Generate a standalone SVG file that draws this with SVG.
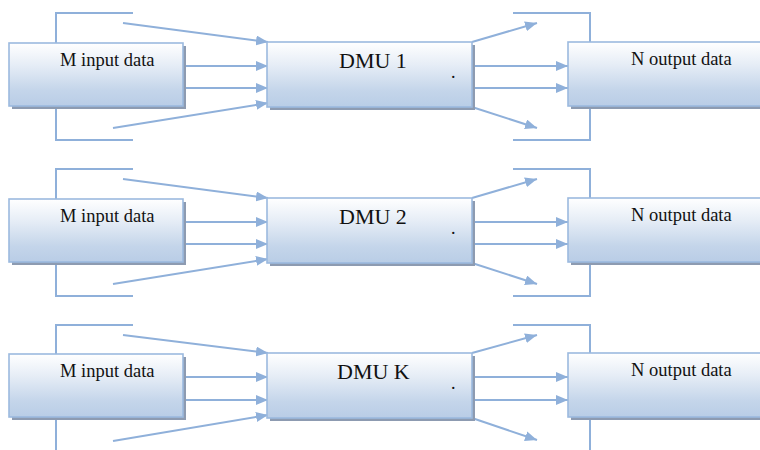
<svg xmlns="http://www.w3.org/2000/svg" width="760" height="450" viewBox="0 0 760 450">
<defs>
<linearGradient id="g" x1="0" y1="0" x2="0" y2="1">
<stop offset="0" stop-color="#ffffff"/>
<stop offset="0.35" stop-color="#e6edf6"/>
<stop offset="0.75" stop-color="#c4d5ea"/>
<stop offset="1" stop-color="#b9cde6"/>
</linearGradient>
<marker id="ah" markerUnits="userSpaceOnUse" markerWidth="12" markerHeight="10" refX="12" refY="5" orient="auto">
<path d="M0,0 L12,5 L0,10 Z" fill="#8fb0da"/>
</marker>
</defs>
<style>
.sh{fill:#8d9bb1}
.bx{fill:url(#g);stroke:#9cbadf;stroke-width:1.6}
.t{font-family:"Liberation Serif","Times New Roman",serif;fill:#111}
.ln{stroke:#8fb0da;stroke-width:2;fill:none}
.ar{stroke:#8fb0da;stroke-width:2;fill:none;marker-end:url(#ah)}
</style>

<g id="connectors">
<!-- row 1 -->
<path class="ln" d="M133,13 H56 V43"/>
<path class="ln" d="M133,140 H56 V106"/>
<line class="ar" x1="123" y1="23" x2="268" y2="42"/>
<line class="ar" x1="183" y1="66" x2="268" y2="66"/>
<line class="ar" x1="183" y1="88" x2="268" y2="88"/>
<line class="ar" x1="113" y1="128" x2="268" y2="103"/>
<line class="ar" x1="472" y1="42" x2="537" y2="23"/>
<line class="ar" x1="472" y1="66" x2="568" y2="66"/>
<line class="ar" x1="472" y1="88" x2="568" y2="88"/>
<line class="ar" x1="472" y1="107" x2="537" y2="128"/>
<path class="ln" d="M513,13 H590 V42"/>
<path class="ln" d="M513,140 H590 V106"/>
<!-- row 2 -->
<path class="ln" d="M133,169 H56 V199"/>
<path class="ln" d="M133,296 H56 V262"/>
<line class="ar" x1="123" y1="179" x2="268" y2="198"/>
<line class="ar" x1="183" y1="222" x2="268" y2="222"/>
<line class="ar" x1="183" y1="244" x2="268" y2="244"/>
<line class="ar" x1="113" y1="284" x2="268" y2="259"/>
<line class="ar" x1="472" y1="198" x2="537" y2="179"/>
<line class="ar" x1="472" y1="222" x2="568" y2="222"/>
<line class="ar" x1="472" y1="244" x2="568" y2="244"/>
<line class="ar" x1="472" y1="263" x2="537" y2="284"/>
<path class="ln" d="M513,169 H590 V198"/>
<path class="ln" d="M513,296 H590 V262"/>
<!-- row 3 -->
<path class="ln" d="M133,325 H56 V354"/>
<path class="ln" d="M56,450 V417"/>
<line class="ar" x1="123" y1="335" x2="268" y2="353"/>
<line class="ar" x1="183" y1="377" x2="268" y2="377"/>
<line class="ar" x1="183" y1="400" x2="268" y2="400"/>
<line class="ar" x1="113" y1="441" x2="268" y2="415"/>
<line class="ar" x1="472" y1="353" x2="537" y2="335"/>
<line class="ar" x1="472" y1="377" x2="568" y2="377"/>
<line class="ar" x1="472" y1="400" x2="568" y2="400"/>
<line class="ar" x1="472" y1="418" x2="537" y2="440"/>
<path class="ln" d="M513,325 H590 V353"/>
<path class="ln" d="M590,450 V417"/>
</g>

<g id="input1">
<rect class="sh" x="12" y="46" width="174" height="63"/>
<rect class="bx" x="9" y="43" width="174" height="63"/>
<text class="t" x="60" y="66" font-size="18.5">M input data</text>
</g>
<g id="dmu1">
<rect class="sh" x="270" y="45" width="205" height="65"/>
<rect class="bx" x="267" y="42" width="205" height="65"/>
<text class="t" x="339" y="68" font-size="22">DMU 1</text>
<text class="t" x="451" y="78" font-size="18">.</text>
</g>
<g id="output1">
<rect class="sh" x="571" y="45" width="200" height="64"/>
<rect class="bx" x="568" y="42" width="200" height="64"/>
<text class="t" x="631" y="65" font-size="18.5">N output data</text>
</g>

<g id="input2">
<rect class="sh" x="12" y="202" width="174" height="63"/>
<rect class="bx" x="9" y="199" width="174" height="63"/>
<text class="t" x="60" y="222" font-size="18.5">M input data</text>
</g>
<g id="dmu2">
<rect class="sh" x="270" y="201" width="205" height="65"/>
<rect class="bx" x="267" y="198" width="205" height="65"/>
<text class="t" x="339" y="224" font-size="22">DMU 2</text>
<text class="t" x="451" y="234" font-size="18">.</text>
</g>
<g id="output2">
<rect class="sh" x="571" y="201" width="200" height="64"/>
<rect class="bx" x="568" y="198" width="200" height="64"/>
<text class="t" x="631" y="221" font-size="18.5">N output data</text>
</g>

<g id="input3">
<rect class="sh" x="12" y="357" width="174" height="63"/>
<rect class="bx" x="9" y="354" width="174" height="63"/>
<text class="t" x="60" y="377" font-size="18.5">M input data</text>
</g>
<g id="dmuK">
<rect class="sh" x="270" y="356" width="205" height="65"/>
<rect class="bx" x="267" y="353" width="205" height="65"/>
<text class="t" x="337" y="379" font-size="22">DMU K</text>
<text class="t" x="451" y="389" font-size="18">.</text>
</g>
<g id="output3">
<rect class="sh" x="571" y="356" width="200" height="64"/>
<rect class="bx" x="568" y="353" width="200" height="64"/>
<text class="t" x="631" y="376" font-size="18.5">N output data</text>
</g>
</svg>
